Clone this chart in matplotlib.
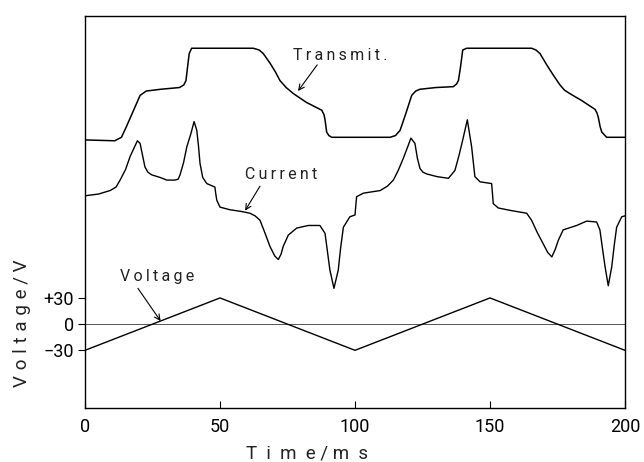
import numpy as np
import matplotlib.pyplot as plt

plt.rcParams['font.family'] = ['Roboto', 'DejaVu Sans']

# time axis (ms) and y in the voltage-axis units (traces are offset copies)
t_trans = [0, 11, 13.5, 15.3, 18, 20.4, 22.7, 28, 35, 36.6, 37.4, 38.0, 38.6, 39.5,
           50, 62.3, 64.5, 66, 68.5, 70.5, 72.2, 74.5, 77.2, 82, 87.7, 88.5, 88.9,
           89.5, 90.3, 91.4, 96, 101.9, 108, 113, 115, 116.7, 118.8, 121, 122.5, 124,
           130, 136.4, 137.6, 138.3, 139.1, 139.9, 141.4, 150, 165.4, 167, 168.5, 171,
           173.5, 175.9, 177.6, 179.6, 184, 188.9, 189.6, 190.1, 190.8, 191.4, 193.2,
           200]
v_trans = [211, 210, 214, 226, 245, 262, 267, 269, 271, 274, 279, 295, 310, 316,
           316, 316, 314, 310, 299, 289, 279, 271, 264, 254, 245, 240, 234,
           220, 216, 214, 214, 214, 214, 214, 216, 222, 241, 262, 267, 269,
           271, 272, 275, 279, 295, 314, 316, 316, 316, 314, 310, 297,
           285, 274, 268, 264, 256, 246, 242, 237, 226, 220, 214, 214]

t_curr = [0, 5, 9.3, 11.5, 13, 15, 16.7, 18.5, 19.4, 20.4, 21.2, 22.2, 23.3, 24.7,
          27.8, 30.3, 33.3, 34.5, 35.2, 36.5, 37.7, 39.2, 40.4, 41.4, 42.0, 42.6,
          43.6, 45.1, 48.1, 48.4, 48.8, 50, 53.7, 58, 61.1, 63, 64.8, 66.7, 68.5,
          70.3, 71.6, 72.6, 73.4, 75.3, 78.4, 82.7, 87, 88.9, 89.8, 90.7, 92.2,
          93.8, 94.7, 95.7, 98.1, 100, 100.3, 100.6, 103.1, 109.3, 112, 114.2,
          116, 117.9, 119.5, 120.7, 122.2, 123.1, 124.1, 125.2, 126.6, 130.3,
          134.6, 137, 138.5, 139.9, 141.6, 143.2, 144.4, 146.3, 150.6, 150.9,
          151.2, 153.1, 158, 163.6, 165.4, 167.5, 169.7, 171.4, 172.9, 174.2,
          175.3, 177.1, 182.1, 185.8, 189.5, 190.7, 191.6, 192.6, 193.8, 195.1,
          196, 196.9, 198.8, 200]
v_curr = [147, 149, 153, 157, 165, 177, 192, 204, 210, 207, 195, 180, 174, 171,
          168, 165, 165, 166, 171, 185, 203, 218, 232, 222, 205, 184,
          168, 161, 157, 150, 142, 134, 131, 129, 127, 124, 119, 104, 89,
          78, 74, 80, 89, 102, 110, 113, 113, 104, 83, 62, 41,
          62, 88, 111, 123, 125, 136, 146, 150, 153, 158, 165,
          176, 190, 203, 213, 207, 190, 178, 174, 172, 169,
          167, 176, 193, 211, 234, 203, 169, 163, 161, 150,
          138, 133, 130, 127, 119, 105, 92, 82, 77, 86,
          96, 108, 113, 118, 117, 108, 88, 66, 44, 66,
          90, 111, 123, 124]

t_volt = [0, 50, 100, 150, 200]
v_volt = [-30, 30, -30, 30, -30]

xticks = [0, 50, 100, 150, 200]
yticks = [-30, 0, 30]
yticklabels = ['\u221230', '0', '+30']


def spaced(s, gap='\u2009'):
    return gap.join(s)


fig = plt.figure(figsize=(6.44, 4.62), dpi=100)
ax = fig.add_axes([0.132, 0.117, 0.8385, 0.8485])

ax.axhline(0, color='#555555', lw=0.7)
ax.plot(t_volt, v_volt, color='black', lw=1.0)
ax.plot(t_trans, v_trans, color='black', lw=1.1)
ax.plot(t_curr, v_curr, color='black', lw=1.0)

ax.set_xlim(0, 200)
ax.set_ylim(-96, 353)
ax.set_xticks(xticks)
ax.set_yticks(yticks)
ax.set_yticklabels(yticklabels)
ax.tick_params(axis='x', direction='in', length=5, labelsize=13, pad=7, width=0.8)
ax.tick_params(axis='y', direction='out', length=5, labelsize=13, pad=3, width=0.8)
for sp in ax.spines.values():
    sp.set_linewidth(1.0)

fig.text(307 / 644, 1 - 453 / 462, 'T  i  m  e / m  s', fontsize=13.5,
         ha='center', va='center', color='#222222')
fig.text(22 / 644, 1 - 323 / 462, spaced('Voltage', '\u2009\u200a') + ' / V',
         fontsize=13.5, rotation=90, ha='center', va='center', color='#222222')

arrow = dict(arrowstyle='->', color='black', lw=0.8, shrinkA=0, shrinkB=0)
ax.annotate('', xy=(78.9, 267), xytext=(86, 297), arrowprops=arrow)
ax.text(77, 308, spaced('Transmit.'), fontsize=11.5, ha='left', va='center',
        color='#222222')
ax.annotate('', xy=(59.3, 130), xytext=(64.8, 158), arrowprops=arrow)
ax.text(59.3, 171, spaced('Current'), fontsize=11.5, ha='left', va='center',
        color='#222222')
ax.annotate('', xy=(28, 3.5), xytext=(19.6, 41), arrowprops=arrow)
ax.text(13, 54, spaced('Voltage'), fontsize=11.5, ha='left', va='center',
        color='#222222')

fig.savefig('out.png', dpi=100)
